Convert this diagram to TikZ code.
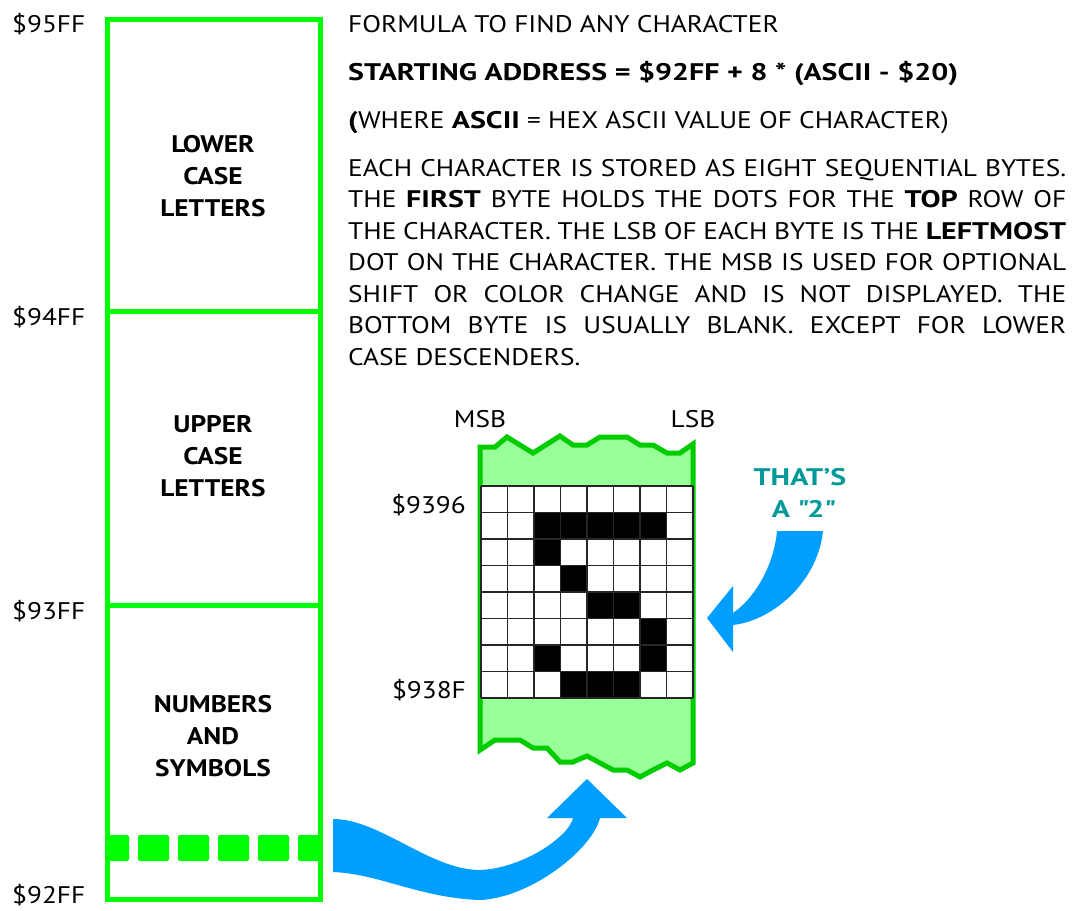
\documentclass[tikz,border=0pt]{standalone}
\usepackage{fontspec}
\newfontfamily\measurefont{PT Sans}
\newlength\linewd
\newlength\boldwd
\settowidth\linewd{\fontsize{24pt}{31.5pt}\measurefont EACH CHARACTER IS STORED AS EIGHT SEQUENTIAL BYTES.}
\settowidth\boldwd{\fontsize{24pt}{31.5pt}\measurefont\bfseries STARTING ADDRESS = \$92FF + 8 * (ASCII - \$20)}
\pgfmathsetmacro\stretchratio{712/\linewd}
\pgfmathsetmacro\boldratio{610/\boldwd}
\edef\setfontnow{\noexpand\setmainfont{PT Sans}[UprightFeatures={FakeStretch=\stretchratio},BoldFeatures={FakeStretch=\boldratio}]}
\setfontnow
\edef\setlabelfont{\noexpand\newfontfamily\noexpand\labelbold{PT Sans}[FakeStretch=\stretchratio]}
\setlabelfont
\definecolor{brightgreen}{HTML}{00FF00}
\definecolor{darkgreen}{HTML}{00CC00}
\definecolor{palegreen}{HTML}{99FF99}
\definecolor{arrowblue}{HTML}{009FFF}
\definecolor{tealtext}{HTML}{009999}
\tikzset{
  txt/.style={inner sep=0pt, font=\fontsize{24pt}{31.5pt}\selectfont},
  boldtxt/.style={txt, font=\fontsize{24pt}{32pt}\labelbold\bfseries, align=center},
  colline/.style={draw=brightgreen, line width=5pt},
  gridline/.style={draw=black!85, line width=1.8pt},
  pixel/.style={fill=black},
  tealbold/.style={txt, font=\fontsize{24pt}{32pt}\selectfont\bfseries, text=tealtext, anchor=base},
}
\begin{document}
\begin{tikzpicture}[x=1pt, y=-1pt]
\useasboundingbox (0,0) rectangle (1072,911);

% ---- memory column ----
\draw[colline] (107.5,19.5) rectangle (320,899.5);
\draw[colline] (107.5,311.5) -- (320,311.5);
\draw[colline] (107.5,605.5) -- (320,605.5);
\foreach \a/\b in {105/129,138/169,178/209,218/249,258/289,298/322}
  \fill[brightgreen, rounded corners=2pt] (\a,835) rectangle (\b,861);

\node[txt, anchor=base west] (a95) at (12,32) {\$95FF};
\node[txt, anchor=base west] (a94) at (12,325) {\$94FF};
\node[txt, anchor=base west] (a93) at (12,619) {\$93FF};
\node[txt, anchor=base west] (a92) at (12,903) {\$92FF};

\node[boldtxt, anchor=north] (lower) at (213,135) {LOWER\\CASE\\LETTERS};
\node[boldtxt, anchor=north] (upper) at (213,415) {UPPER\\CASE\\LETTERS};
\node[boldtxt, anchor=north] (nums) at (213,695) {NUMBERS\\AND\\SYMBOLS};

% ---- text ----
\node[txt, anchor=base west] (formula) at (348,32) {FORMULA TO FIND ANY CHARACTER};
\node[txt, anchor=base west] (start) at (348,80) {\bfseries STARTING ADDRESS = \$92FF + 8 * (ASCII - \$20)};
\node[txt, anchor=base west] (where) at (348,128) {\textbf{(}WHERE \textbf{ASCII} = HEX ASCII VALUE OF CHARACTER)};
\node[txt, anchor=north west, text width=718pt, align=justify] (para) at (348,159)
 {EACH CHARACTER IS STORED AS EIGHT SEQUENTIAL BYTES.\linebreak
  THE \textbf{FIRST} BYTE HOLDS THE DOTS FOR THE \textbf{TOP} ROW OF\linebreak
  THE CHARACTER. THE LSB OF EACH BYTE IS THE \textbf{LEFTMOST}\linebreak
  DOT ON THE CHARACTER. THE MSB IS USED FOR OPTIONAL\linebreak
  SHIFT OR COLOR CHANGE AND IS NOT DISPLAYED. THE\linebreak
  BOTTOM BYTE IS USUALLY BLANK. EXCEPT FOR LOWER\linebreak
  CASE DESCENDERS.};

% ---- character strip ----
\filldraw[fill=palegreen, draw=darkgreen, line width=5pt]
 (480,447) -- (495,447) -- (507,437) -- (533,453) -- (560,436) -- (573,445) -- (587,445)
 -- (600,437) -- (627,437) -- (640,445) -- (653,445) -- (667,453) -- (680,453) -- (693,444)
 -- (693,763) -- (680,770) -- (667,763) -- (653,770) -- (640,777) -- (627,770) -- (613,770)
 -- (587,756) -- (573,762) -- (560,762) -- (547,748) -- (533,748) -- (520,740) -- (495,740)
 -- (480,750) -- cycle;
\fill[white] (482,486) rectangle (692,698);
\foreach \r/\c in {1/2,1/3,1/4,1/5,1/6,2/2,3/3,4/4,4/5,5/6,6/2,6/6,7/3,7/4,7/5}
  \fill[pixel] ({481+26.5*\c},{486+26.5*\r}) rectangle ({481+26.5*(\c+1)},{486+26.5*(\r+1)});
\foreach \i in {0,...,8} {
  \draw[gridline] ({481+26.5*\i},486) -- ({481+26.5*\i},698);
  \draw[gridline] (481,{486+26.5*\i}) -- (693,{486+26.5*\i});
}
\node[txt, anchor=base] (msb) at (480,427) {MSB};
\node[txt, anchor=base] (lsb) at (693,427) {LSB};
\node[txt, anchor=base east] (top) at (466,513) {\$9396};
\node[txt, anchor=base east] (bot) at (466,698) {\$938F};

% ---- arrows ----
\fill[arrowblue] (333,819) .. controls (380,819) and (430,870) .. (480,870)
  .. controls (525,868) and (570,835) .. (573,818) -- (547,818) -- (587,779) -- (627,818) -- (600,818)
  .. controls (592,850) and (530,898) .. (480,900)
  .. controls (420,898) and (380,874) .. (333,872) -- cycle;

\node[tealbold] (thats) at (800,485) {THAT’S};
\node[tealbold] (two) at (803,517) {A \textquotedbl2\textquotedbl};
\fill[arrowblue] (777,531) .. controls (774,565) and (755,598) .. (733,613) -- (733,586) -- (707,618)
  -- (733,652) -- (733,625) .. controls (775,620) and (818,580) .. (823,531) -- cycle;
\end{tikzpicture}
\end{document}
